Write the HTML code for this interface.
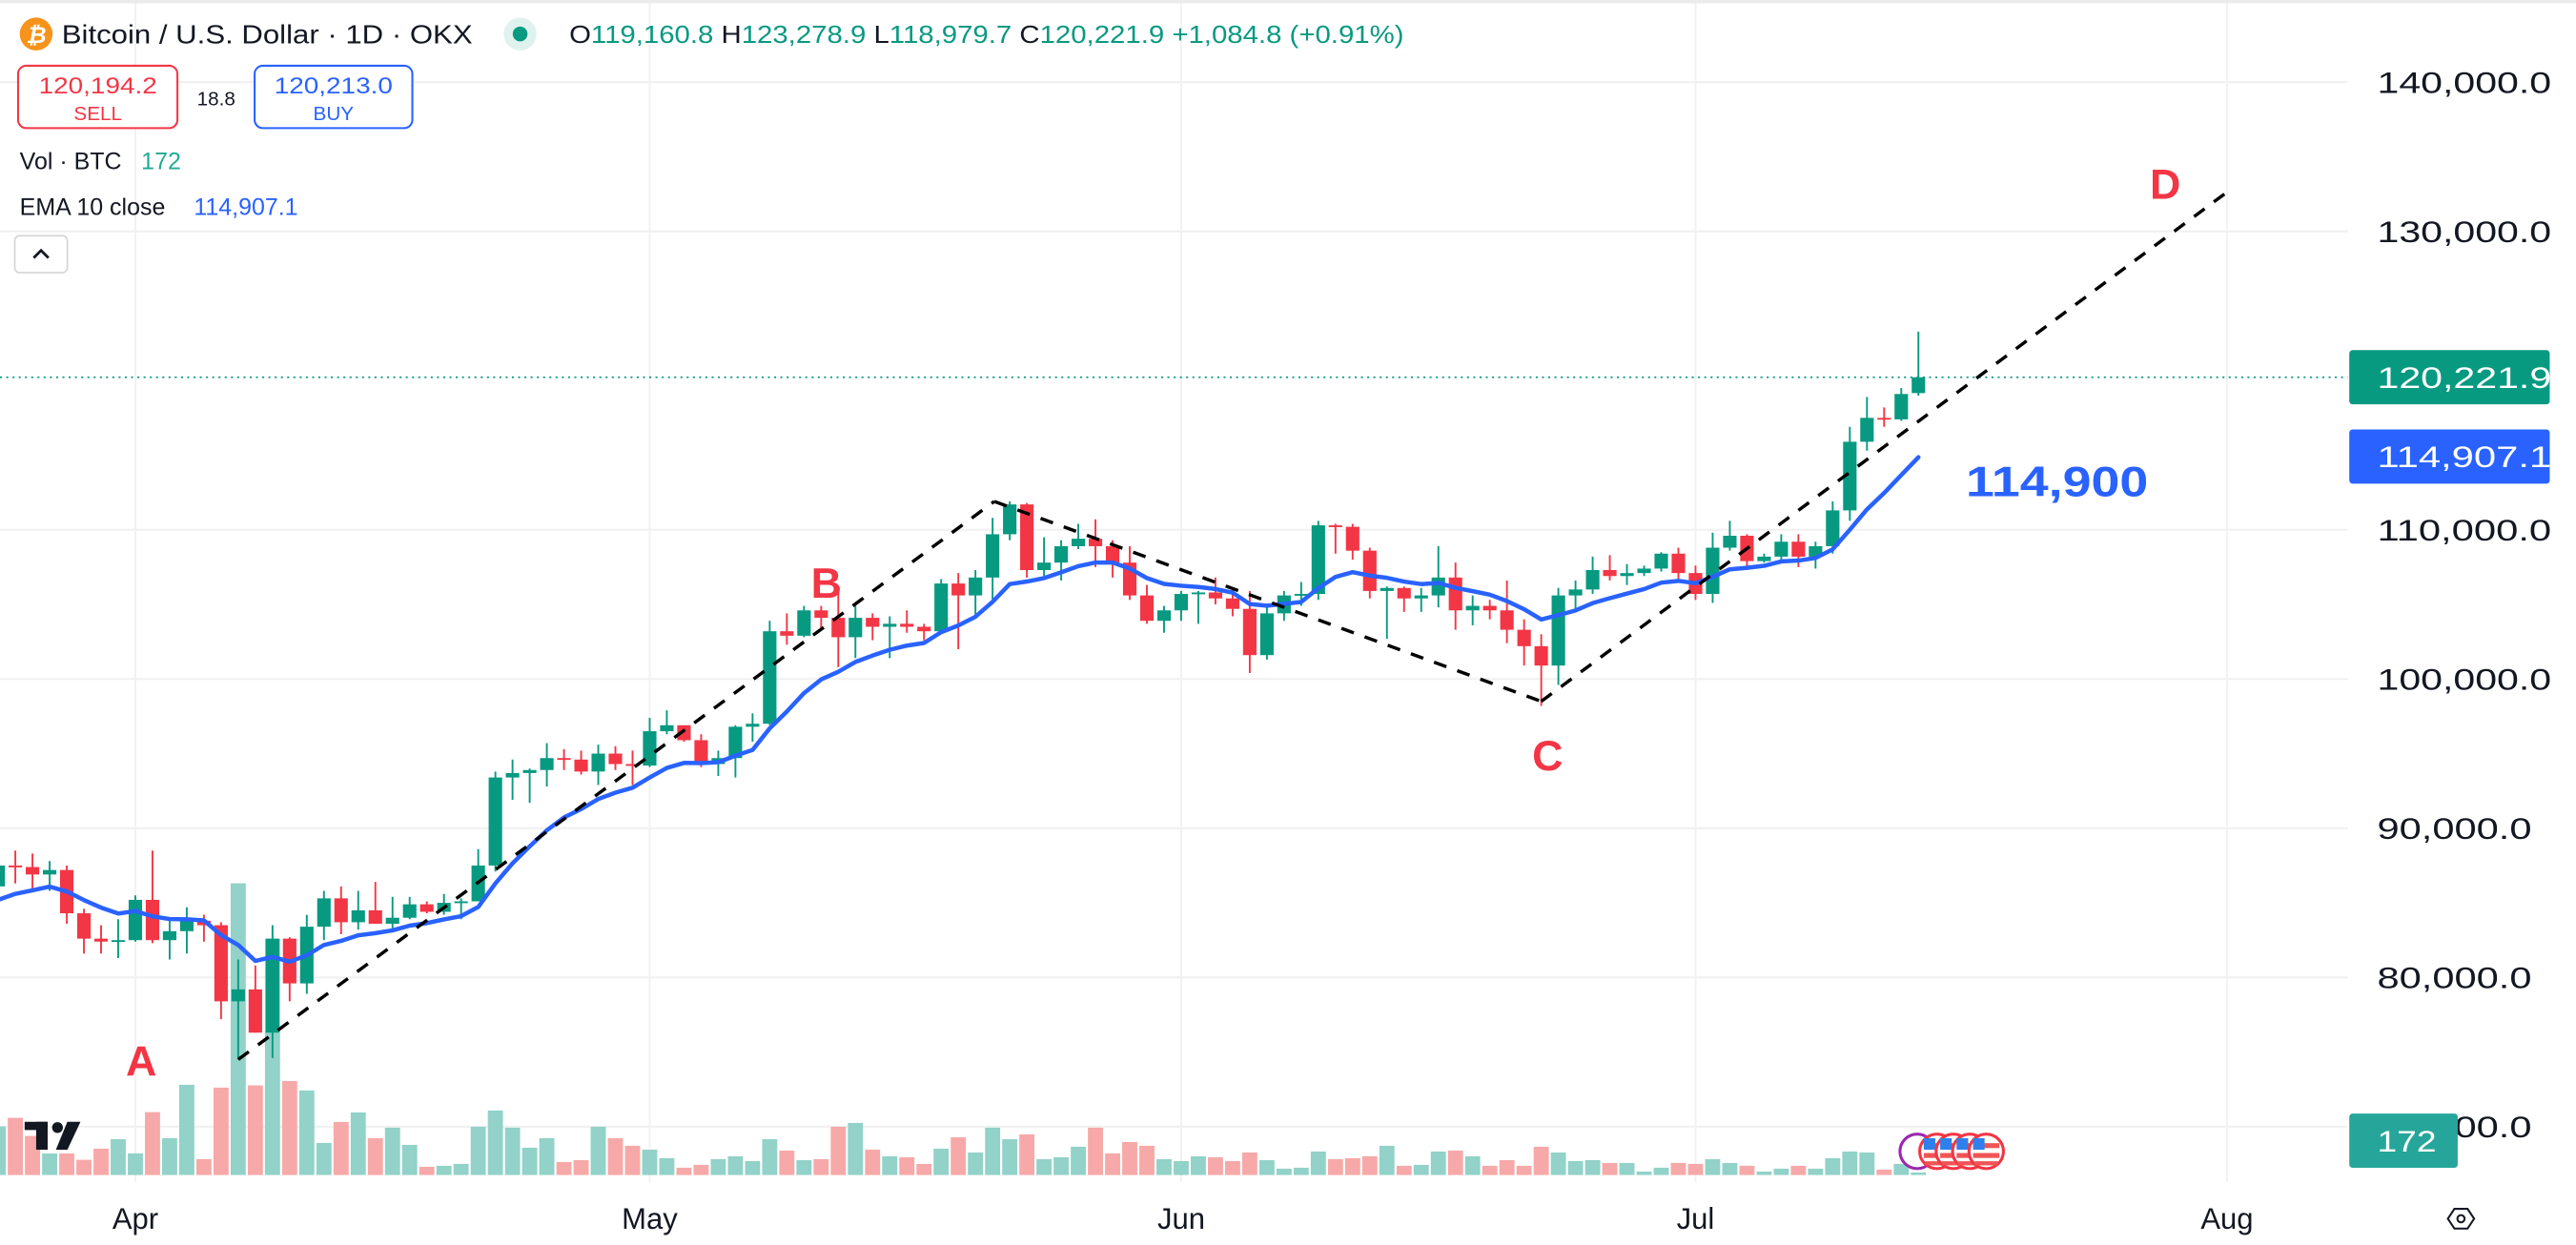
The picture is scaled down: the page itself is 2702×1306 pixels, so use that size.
<!DOCTYPE html>
<html><head><meta charset="utf-8"><title>BTCUSD chart</title>
<style>
html,body{margin:0;padding:0;background:#fff;}
svg{display:block;font-family:"Liberation Sans",sans-serif;}
</style></head>
<body>
<svg id="chart" width="2702" height="1306" viewBox="0 0 1568 758" preserveAspectRatio="none" xmlns="http://www.w3.org/2000/svg">
  <rect x="0" y="0" width="1568" height="758" fill="#ffffff"/>
  <rect x="0" y="0" width="1568" height="2" fill="#ebebeb"/>
  <g id="grid"></g>
  <g id="vol"></g>
  <g id="candles"></g>
  <g id="ema"></g>
  <g id="pattern"></g>
  <g id="yaxis"></g>
  <g id="xaxis"></g>

  <g>
    <circle cx="22" cy="20.7" r="10" fill="#f7931a"/>
    <text x="22" y="26" font-size="14" font-weight="bold" fill="#fff" text-anchor="middle" font-style="italic">₿</text>
    <text x="37.6" y="26.5" font-size="16" fill="#131722" textLength="250" lengthAdjust="spacingAndGlyphs">Bitcoin / U.S. Dollar · 1D · OKX</text>
    <circle cx="316.6" cy="20.7" r="10" fill="#e0f2ee"/>
    <circle cx="316.6" cy="20.7" r="4.5" fill="#089981"/>
    <text x="346.5" y="26" font-size="15" fill="#089981" textLength="508" lengthAdjust="spacingAndGlyphs"><tspan fill="#131722">O</tspan>119,160.8 <tspan fill="#131722">H</tspan>123,278.9 <tspan fill="#131722">L</tspan>118,979.7 <tspan fill="#131722">C</tspan>120,221.9 +1,084.8 (+0.91%)</text>

    <g>
      <rect x="11" y="40" width="97" height="38" rx="5" fill="#fff" stroke="#f23645" stroke-width="1.2"/>
      <text x="59.6" y="57" font-size="14" fill="#f23645" text-anchor="middle" textLength="72" lengthAdjust="spacingAndGlyphs">120,194.2</text>
      <text x="59.6" y="73" font-size="12" fill="#f23645" text-anchor="middle">SELL</text>
    </g>
    <text x="131.6" y="64" font-size="12" fill="#131722" text-anchor="middle">18.8</text>
    <g>
      <rect x="155" y="40" width="96" height="38" rx="5" fill="#fff" stroke="#2962ff" stroke-width="1.2"/>
      <text x="203" y="57" font-size="14" fill="#2962ff" text-anchor="middle" textLength="72" lengthAdjust="spacingAndGlyphs">120,213.0</text>
      <text x="203" y="73" font-size="12" fill="#2962ff" text-anchor="middle">BUY</text>
    </g>
    <text x="12" y="103" font-size="14.5" fill="#131722">Vol · BTC <tspan x="86" fill="#22ab94">172</tspan></text>
    <text x="12" y="131" font-size="14.5" fill="#131722">EMA 10 close <tspan x="118" fill="#2962ff">114,907.1</tspan></text>
    <g>
      <rect x="9" y="143.5" width="32" height="22.5" rx="3" fill="#fff" stroke="#d6d6d6" stroke-width="1"/>
      <path d="M20.5 157 L25 152.5 L29.5 157" fill="none" stroke="#131722" stroke-width="1.6"/>
    </g>
  </g>

  <g fill="#131722">
    <rect x="15" y="683" width="14" height="5"/>
    <rect x="22" y="683" width="7" height="17"/>
    <circle cx="35" cy="686.5" r="3.3"/>
    <polygon points="41,683 49,683 41,700 34,700"/>
  </g>

  <g id="events"></g>

  <g>
    <polygon points="1490,742 1494,736 1502,736 1506,742 1502,748 1494,748" fill="none" stroke="#131722" stroke-width="1.2"/>
    <circle cx="1498" cy="742" r="2.2" fill="none" stroke="#131722" stroke-width="1.2"/>
  </g>
</svg>
<script>
const dates = ["Mar24","Mar25","Mar26","Mar27","Mar28","Mar29","Mar30","Mar31",
"Apr1","Apr2","Apr3","Apr4","Apr5","Apr6","Apr7","Apr8","Apr9","Apr10","Apr11","Apr12","Apr13","Apr14","Apr15","Apr16","Apr17","Apr18","Apr19","Apr20","Apr21","Apr22","Apr23","Apr24","Apr25","Apr26","Apr27","Apr28","Apr29","Apr30",
"May1","May2","May3","May4","May5","May6","May7","May8","May9","May10","May11","May12","May13","May14","May15","May16","May17","May18","May19","May20","May21","May22","May23","May24","May25","May26","May27","May28","May29","May30","May31",
"Jun1","Jun2","Jun3","Jun4","Jun5","Jun6","Jun7","Jun8","Jun9","Jun10","Jun11","Jun12","Jun13","Jun14","Jun15","Jun16","Jun17","Jun18","Jun19","Jun20","Jun21","Jun22","Jun23","Jun24","Jun25","Jun26","Jun27","Jun28","Jun29","Jun30",
"Jul1","Jul2","Jul3","Jul4","Jul5","Jul6","Jul7","Jul8","Jul9","Jul10","Jul11","Jul12","Jul13","Jul14"];
const opens = [86.1,87.5,87.4,86.9,87.2,84.3,82.6,82.4,
82.5,85.2,82.5,83.1,83.8,83.5,78.4,79.2,76.3,82.6,79.6,83.4,85.3,83.7,84.5,83.6,84.0,84.9,84.4,85.0,85.1,87.5,93.4,93.7,93.9,94.7,94.6,93.8,95.0,94.3,
94.2,96.5,96.9,95.9,94.3,94.7,96.8,97.0,103.2,102.9,104.6,104.1,102.8,104.1,103.5,103.7,103.5,103.2,106.4,105.6,106.8,109.7,111.7,107.3,107.8,108.9,109.4,108.9,107.8,105.6,103.9,
104.6,105.7,105.8,105.4,104.7,101.6,104.4,105.6,105.7,110.3,110.2,108.6,105.9,106.1,105.4,105.6,106.8,104.6,104.9,104.6,103.3,102.2,100.9,105.6,106.0,107.3,106.9,107.1,107.4,108.4,
107.1,105.7,108.8,109.6,107.9,108.2,109.2,108.2,108.9,111.3,115.9,117.5,117.4,119.16];
const highs = [88.7,88.5,88.3,87.8,87.5,84.6,83.5,83.9,
85.5,88.5,83.9,84.7,84.2,83.7,81.2,80.8,83.5,82.7,84.2,85.8,86.1,85.8,86.4,85.4,85.4,85.1,85.6,85.3,88.6,93.8,94.6,94.0,95.7,95.3,95.2,95.6,95.5,95.2,
97.4,97.9,96.9,96.3,95.2,96.9,97.7,103.9,104.4,104.9,104.9,105.8,104.9,104.4,104.2,104.6,103.7,106.7,107.1,107.3,110.8,111.9,111.8,109.5,109.3,110.4,110.7,109.3,108.9,106.3,104.9,
105.9,105.9,106.8,106.0,105.9,105.0,105.9,106.5,110.6,110.4,110.4,108.8,106.2,106.2,106.1,108.9,107.8,105.6,105.3,106.6,104.0,103.0,106.1,106.6,108.2,108.3,107.7,107.6,108.5,108.8,
107.6,109.8,110.6,109.7,108.4,109.7,109.7,109.2,111.9,116.9,118.9,118.2,119.5,123.28];
const lows = [85.9,86.3,85.9,85.8,83.6,81.6,81.6,81.3,
82.4,82.3,81.2,81.6,82.4,77.2,74.5,76.3,74.6,78.4,78.9,82.5,82.9,83.2,83.6,83.2,83.9,84.3,84.2,83.9,85.1,87.1,91.9,91.7,92.8,93.9,93.6,92.9,93.9,92.9,
94.1,96.3,95.8,94.1,93.5,93.4,95.8,96.9,102.3,102.8,103.4,100.8,101.4,102.6,101.4,103.1,102.6,103.1,102.0,104.2,105.3,109.3,106.8,106.9,106.6,108.7,107.5,106.8,105.3,103.7,103.1,
103.9,103.7,105.0,104.2,100.4,101.3,103.9,104.9,105.3,108.4,108.0,105.4,102.7,104.5,104.5,104.8,103.3,103.6,104.0,102.4,100.9,98.2,99.6,104.6,105.7,106.6,106.3,106.9,107.2,106.7,
105.3,105.1,108.6,107.3,107.8,107.8,107.5,107.4,108.4,110.6,115.3,116.9,117.3,118.98];
const closes = [87.5,87.4,86.9,87.2,84.3,82.6,82.4,82.5,
85.2,82.5,83.1,83.8,83.5,78.4,79.2,76.3,82.6,79.6,83.4,85.3,83.7,84.5,83.6,84.0,84.9,84.4,85.0,85.1,87.5,93.4,93.7,93.9,94.7,94.6,93.8,95.0,94.3,94.2,
96.5,96.9,95.9,94.3,94.7,96.8,97.0,103.2,102.9,104.6,104.1,102.8,104.1,103.5,103.7,103.5,103.2,106.4,105.6,106.8,109.7,111.7,107.3,107.8,108.9,109.4,108.9,107.8,105.6,103.9,104.6,
105.7,105.8,105.4,104.7,101.6,104.4,105.6,105.7,110.3,110.2,108.6,105.9,106.1,105.4,105.6,106.8,104.6,104.9,104.6,103.3,102.2,100.9,105.6,106.0,107.3,106.9,107.1,107.4,108.4,107.1,
105.7,108.8,109.6,107.9,108.2,109.2,108.2,108.9,111.3,115.9,117.5,117.4,119.1,120.22];
const volumes = [153,180,123,68,68,48,83,113,68,198,116,284,50,275,918,282,743,296,266,101,167,197,116,149,95,26,29,35,152,203,149,86,116,41,47,152,116,92,80,53,23,32,50,59,44,113,77,47,50,152,164,80,59,56,35,83,119,71,149,113,128,50,56,89,149,68,104,92,50,44,59,56,44,71,47,20,23,74,50,53,59,92,29,32,74,77,59,29,47,29,89,71,44,47,38,38,11,23,38,35,50,38,29,11,20,29,20,53,74,71,17,35,8];
const priceTicks = [140000,130000,110000,100000,90000,80000,70000];
const priceTickLabels = ["140,000.0","130,000.0","110,000.0","100,000.0","90,000.0","80,000.0","70,000.0"];
const monthLabels = ["Apr","May","Jun","Jul","Aug"];
const monthIndex = [8,38,69,99,130];
const patternIdx = [14.0, 58.1, 90.0, 130.2];
const patternPrice = [74500, 111900, 98500, 132800];
const patternLabels = ["A","B","C","D"];
const emaSeed = 85.2;
const emaPeriod = 10;
const lastPrice = 120221.9;
const emaLast = 114907.1;
const lastVolume = 172;

const NS = "http://www.w3.org/2000/svg";
const X0 = -1.1, DX = 10.436;
function xAt(i){ return X0 + DX*i; }
function yAt(v){ return 50 + (140000 - v)*0.009085; }
const VOL_BASE = 715.4, VOL_K = 0.1935;
function vh(v){ return v*VOL_K; }
const PLOT_R = 1429;
function mk(tag, attrs, parent){
  const e = document.createElementNS(NS, tag);
  for (const k in attrs) e.setAttribute(k, attrs[k]);
  parent.appendChild(e); return e;
}
const G = id => document.getElementById(id);

const grid = G('grid');
priceTicks.forEach(p=>{
  const l = mk('line',{x1:0,x2:PLOT_R,y1:yAt(p),y2:yAt(p),stroke:'#f0f0f0','stroke-width':1.2},grid);
  
  
});
monthIndex.forEach(i=>{
  const l = mk('line',{x1:xAt(i),x2:xAt(i),y1:2,y2:720,stroke:'#f2f2f2','stroke-width':1.2},grid);
  
  
});

const vol = G('vol');
volumes.forEach((v,i)=>{
  const up = closes[i] >= opens[i];
  const h = vh(v);
  const r = mk('rect',{x:xAt(i)-4.6,y:VOL_BASE-h,width:9.2,height:h,fill: up?'#92d2c8':'#f6a9a8'},vol);
  
  
});

const cg = G('candles');
dates.forEach((d,i)=>{
  const o=opens[i]*1000,h=highs[i]*1000,l=lows[i]*1000,c=closes[i]*1000;
  const up = c>=o, col = up?'#089981':'#f23645';
  const g = mk('g',{},cg);
  
  
  const x = xAt(i);
  mk('line',{x1:x,x2:x,y1:yAt(h),y2:yAt(l),stroke:col,'stroke-width':1.1},g);
  const top = yAt(Math.max(o,c)), bot = yAt(Math.min(o,c));
  mk('rect',{x:x-4.1,y:top,width:8.2,height:Math.max(1.1,bot-top),fill:col},g);
});

const emaVals = [];
let e = emaSeed;
const a = 2/(emaPeriod+1);
closes.forEach((c,i)=>{ e = i===0 ? emaSeed : e + a*(c-e); emaVals.push(e); });
const emaPts = emaVals.map((v,i)=>xAt(i).toFixed(2)+','+yAt(v*1000).toFixed(2)).join(' ');
const emaLine = mk('polyline',{points:emaPts,fill:'none',stroke:'#2962ff','stroke-width':2.6,'stroke-linejoin':'round','stroke-linecap':'round'},G('ema'));


const emaTxt = mk('text',{x:1196.6,y:302,'font-size':26,'font-weight':'bold',fill:'#2962ff',textLength:111,lengthAdjust:'spacingAndGlyphs'},G('ema'));
emaTxt.textContent = '114,900';



const pl = mk('line',{x1:0,x2:PLOT_R,y1:yAt(lastPrice),y2:yAt(lastPrice),stroke:'#089981','stroke-width':1,'stroke-dasharray':'1.2 2.6'},G('ema'));



const pg = G('pattern');
const pp = patternIdx.map((ix,k)=>[xAt(ix), yAt(patternPrice[k])]);
for (let k=0;k<pp.length-1;k++){
  const s = mk('line',{x1:pp[k][0],y1:pp[k][1],x2:pp[k+1][0],y2:pp[k+1][1],stroke:'#000','stroke-width':2,'stroke-dasharray':'8 7'},pg);
  
  
}
const lblPos = [[86,655],[503,364],[942,469],[1318,121]];
patternLabels.forEach((t,k)=>{
  const tx = mk('text',{x:lblPos[k][0],y:lblPos[k][1],'font-size':26,'font-weight':'bold',fill:'#f23645','text-anchor':'middle'},pg);
  tx.textContent = t;
  
  
});

const ya = G('yaxis');
priceTicks.forEach((p,k)=>{
  const lab = priceTickLabels[k];
  const t = mk('text',{x:1447,y:yAt(p)+6.5,'font-size':18,fill:'#131722',textLength: lab.length===9?106:94,lengthAdjust:'spacingAndGlyphs'},ya);
  t.textContent = lab;
  
  
});
function tag(val,label,color,name,w){
  const y = yAt(val);
  const r = mk('rect',{x:1430,y:y-16.5,width:w,height:33,rx:2,fill:color},ya);
  
  
  const t = mk('text',{x:1447,y:y+6.5,'font-size':18,fill:'#fff',textLength:label.length*11.78,lengthAdjust:'spacingAndGlyphs'},ya);
  t.textContent = label;
  
  
}
tag(lastPrice,'120,221.9','#089981','last-price-tag',122);
tag(emaLast,'114,907.1','#2962ff','ema-price-tag',122);
{
  const r = mk('rect',{x:1430,y:678,width:66,height:33,rx:2,fill:'#26a69a'},ya);
  
  
  const t = mk('text',{x:1447,y:701,'font-size':18,fill:'#fff',textLength:36,lengthAdjust:'spacingAndGlyphs'},ya);
  t.textContent = String(lastVolume);
  
  
}

const xa = G('xaxis');
monthLabels.forEach((m,k)=>{
  const t = mk('text',{x:xAt(monthIndex[k]),y:748,'font-size':18,fill:'#131722','text-anchor':'middle'},xa);
  t.textContent = m;
  
  
});

const ev = G('events');
const pc = mk('circle',{cx:1167,cy:701,r:10.5,fill:'#fff',stroke:'#9c27b0','stroke-width':1.8},ev);


[1179,1189,1199,1209].forEach(cx=>{
  const g = mk('g',{},ev);
  
  
  mk('circle',{cx:cx,cy:701,r:10.5,fill:'#fff',stroke:'#f23645','stroke-width':1.8},g);
  mk('rect',{x:cx-8,y:696,width:16,height:3,fill:'#f05454'},g);
  mk('rect',{x:cx-8,y:702,width:16,height:3,fill:'#f05454'},g);
  mk('rect',{x:cx-7,y:707,width:14,height:2.5,fill:'#f05454'},g);
  mk('rect',{x:cx-8,y:693,width:7,height:7,fill:'#2f80ed'},g);
});
</script>
</body></html>
